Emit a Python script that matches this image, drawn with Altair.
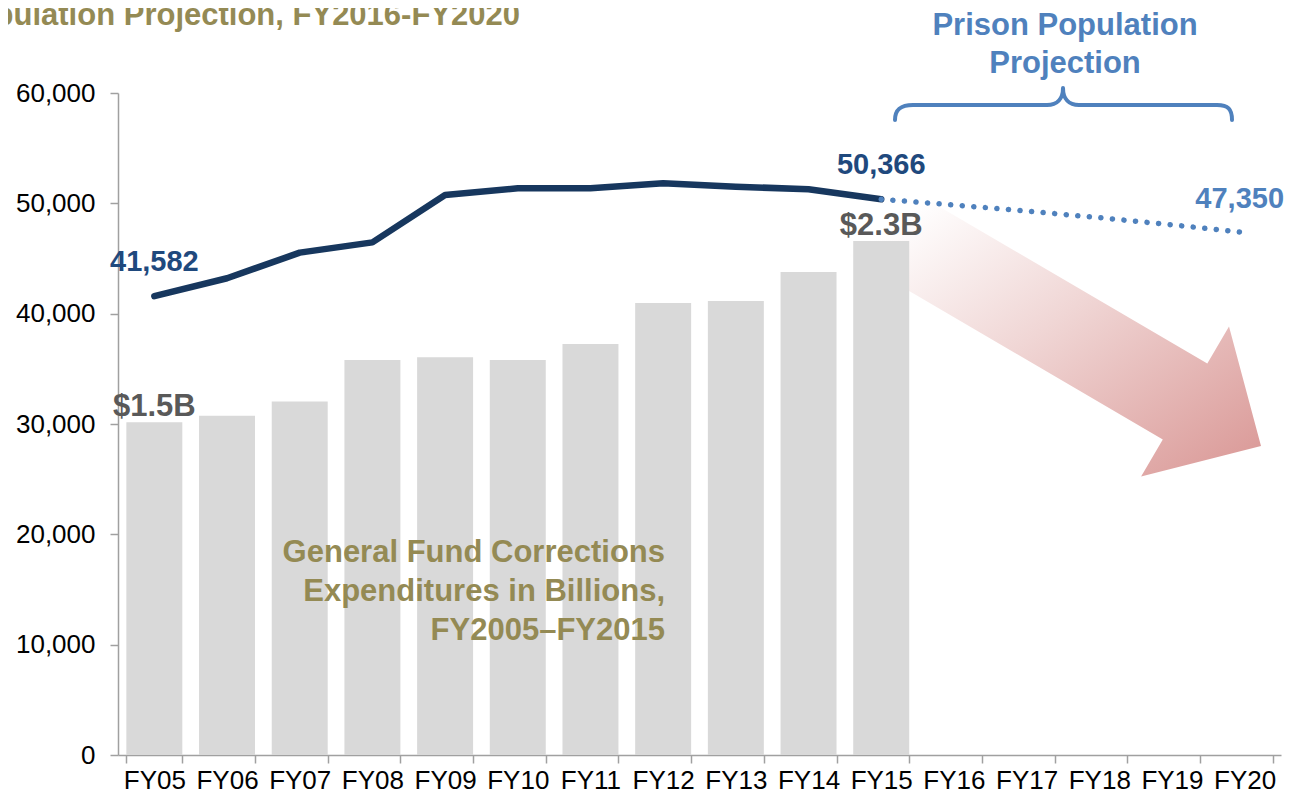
import math
import altair as alt
import pandas as pd

# ---------------- data ----------------
years = ["FY05", "FY06", "FY07", "FY08", "FY09", "FY10", "FY11", "FY12",
         "FY13", "FY14", "FY15", "FY16", "FY17", "FY18", "FY19", "FY20"]
hist_years = ["FY05", "FY06", "FY07", "FY08", "FY09", "FY10", "FY11",
              "FY12", "FY13", "FY14", "FY15"]
population = [41582, 43210, 45530, 46460, 50750, 51360, 51360, 51820,
              51510, 51270, 50366]
proj_years = ["FY15", "FY16", "FY17", "FY18", "FY19", "FY20"]
projection = [50366, 49850, 49300, 48700, 48050, 47350]
# General Fund expenditures, drawn on the population axis (bar heights)
expend_height = [30150, 30750, 32050, 35800, 36050, 35800, 37250, 40970,
                 41150, 43780, 46590]
expend_label_years = ["FY05", "FY15"]
expend_label_height = [30150, 46590]
expend_label_text = ["$1.5B", "$2.3B"]

pop_label_years = ["FY05", "FY15"]
pop_label_values = [41582, 50366]
proj_label_years = ["FY20"]
proj_label_values = [47350]

y_ticks = [0, 10000, 20000, 30000, 40000, 50000, 60000]

# ---------------- layout ----------------
W, H = 1163, 662
FONT = "Liberation Sans"
OLIVE = "#948A54"
BLUE = "#4F81BD"
NAVY = "#17375E"
NAVY_TXT = "#1F497D"
GREY_TXT = "#595959"

bars_df = pd.DataFrame({"year": hist_years, "v": expend_height})
line_df = pd.DataFrame({"year": hist_years, "v": population})
proj_df = pd.DataFrame({"year": proj_years, "v": projection})
exp_lab = pd.DataFrame({"year": expend_label_years, "v": expend_label_height,
                        "t": expend_label_text})
pop_lab = pd.DataFrame({"year": pop_label_years, "v": pop_label_values})
proj_lab = pd.DataFrame({"year": proj_label_years, "v": proj_label_values})

xscale = alt.Scale(type="band", domain=years, paddingInner=0.23, paddingOuter=0.115)
yscale = alt.Scale(domain=[0, 60000], nice=False)

X = alt.X("year:N", scale=xscale, sort=years, title=None,
          axis=alt.Axis(labelAngle=0, tickBand="extent", labelFontSize=26,
                        labelFont=FONT, labelColor="#000000", labelPadding=4,
                        domainColor="#A0A0A0", domainWidth=1.5,
                        tickColor="#A0A0A0", tickWidth=1.5, tickSize=8))
Y = alt.Y("v:Q", scale=yscale, title=None,
          axis=alt.Axis(values=y_ticks, format=",.0f", grid=False, labelFontSize=26,
                        labelFont=FONT, labelColor="#000000", labelPadding=15,
                        domainColor="#A0A0A0", domainWidth=1.5,
                        tickColor="#A0A0A0", tickWidth=1.5, tickSize=8))

# ---------------- decorative arrow (custom symbol path) ----------------
theta = math.radians(30.35)
d = (math.cos(theta), math.sin(theta))
n = (-math.sin(theta), math.cos(theta))
local = [(0, -44), (379, -44), (379, -87), (467, 0), (379, 87), (379, 44), (0, 44)]
pts = [(u * d[0] + v * n[0], u * d[1] + v * n[1]) for u, v in local]
arrow_path = "M " + " L ".join(f"{px:.1f},{py:.1f}" for px, py in pts) + " Z"
arrow_anchor = (858 - 118, 210 - 93)

arrow = alt.Chart(pd.DataFrame({"a": [0]})).mark_point(
    shape=arrow_path, size=4, filled=True, opacity=1, strokeWidth=0,
    fill=alt.LinearGradient(
        gradient="linear", x1=0, y1=0, x2=1, y2=1,
        stops=[alt.GradientStop(color="#FFFFFF", offset=0.15),
               alt.GradientStop(color="#F0D6D5", offset=0.5),
               alt.GradientStop(color="#D99694", offset=1)])
).encode(x=alt.value(arrow_anchor[0]), y=alt.value(arrow_anchor[1]))

bracket_path = ("M -168,15 C -168,4 -162,0 -150,0 L -16,0 C -6,0 0,-6 0,-17 "
                "C 0,-6 6,0 16,0 L 154,0 C 165,0 169,4 169,15")
bracket = alt.Chart(pd.DataFrame({"a": [0]})).mark_point(
    shape=bracket_path, size=4, filled=False, opacity=1, stroke=BLUE,
    strokeWidth=4, strokeCap="round", strokeJoin="round"
).encode(x=alt.value(1063 - 118), y=alt.value(105 - 93))

# ---------------- data marks ----------------
bars = alt.Chart(bars_df).mark_bar(color="#D9D9D9").encode(x=X, y=Y)

line = alt.Chart(line_df).mark_line(color=NAVY, strokeWidth=6.5, strokeCap="round",
                                    strokeJoin="round").encode(x=X, y=Y)
proj = alt.Chart(proj_df).mark_line(color=BLUE, strokeWidth=5.5, strokeCap="round",
                                    strokeDash=[0.1, 11.5]).encode(x=X, y=Y)

exp_text = alt.Chart(exp_lab).mark_text(
    font=FONT, fontSize=31, fontWeight="bold", color=GREY_TXT, baseline="alphabetic",
    dy=-6).encode(x=X, y=Y, text="t:N")
pop_text = alt.Chart(pop_lab).mark_text(
    font=FONT, fontSize=29, fontWeight="bold", color=NAVY_TXT, baseline="alphabetic",
    dy=-25).encode(x=X, y=Y, text=alt.Text("v:Q", format=",.0f"))
proj_text = alt.Chart(proj_lab).mark_text(
    font=FONT, fontSize=29, fontWeight="bold", color=BLUE, baseline="alphabetic",
    dy=-25, dx=-5).encode(x=X, y=Y, text=alt.Text("v:Q", format=",.0f"))

# ---------------- annotations ----------------
def note(lines, x, y, color, align, size=31, lh=39):
    return alt.Chart(pd.DataFrame({"a": [0]})).mark_text(
        text=lines, font=FONT, fontSize=size, fontWeight="bold", color=color,
        align=align, baseline="alphabetic", lineHeight=lh
    ).encode(x=alt.value(x), y=alt.value(y))

fund_note = note(["General Fund Corrections", "Expenditures in Billions,",
                  "FY2005\u2013FY2015"], 665 - 118, 562 - 93, OLIVE, "right")
proj_note = note(["Prison Population", "Projection"], 1065 - 118, 35 - 93, BLUE,
                 "center", lh=38)
title_note = note(["Prison Population Projection, FY2016-FY2020"], 520 - 118, 25 - 93,
                  OLIVE, "right")

chart = alt.layer(
    arrow, bars, line, proj, exp_text, pop_text, proj_text,
    fund_note, proj_note, title_note, bracket
).properties(
    width=W, height=H,
    autosize=alt.AutoSizeParams(type="none"),
    padding={"left": 110, "top": 85, "right": 6, "bottom": 41},
).configure(background="#FFFFFF").configure_view(strokeOpacity=0, strokeWidth=0)

chart.save("out.html", embed_options={"renderer": "svg", "actions": False})
